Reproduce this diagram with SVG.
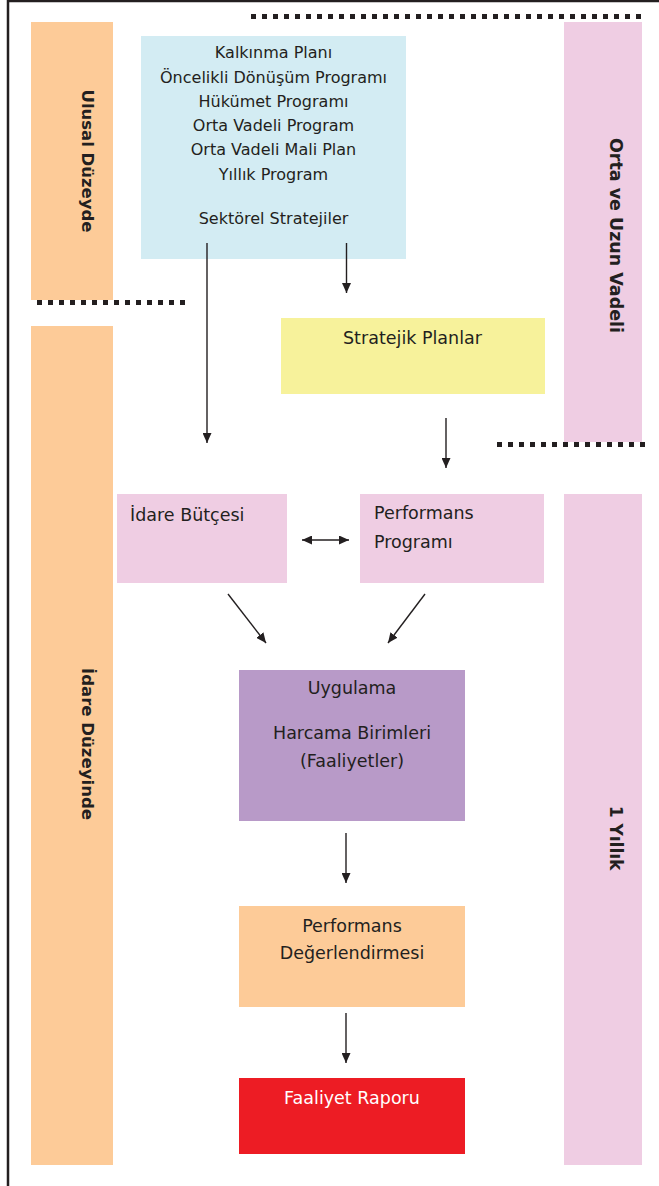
<svg xmlns="http://www.w3.org/2000/svg" width="659" height="1186" viewBox="0 0 659 1186">
<style>
.t{font-family:"DejaVu Sans",Verdana,sans-serif;fill:#231f20}
.b16{font-size:16px}
.b17{font-size:17.5px}
.rot{font-family:"DejaVu Sans",Verdana,sans-serif;font-weight:bold;fill:#231f20;text-anchor:middle}
.c{text-anchor:middle}
.ln{stroke:#231f20;stroke-width:1.4;fill:none;marker-end:url(#ah)}
.dot{stroke:#231f20;stroke-width:5;stroke-dasharray:5 6;fill:none}
</style>
<defs>
<marker id="ah" markerUnits="userSpaceOnUse" markerWidth="10" markerHeight="9" refX="10" refY="4.5" orient="auto-start-reverse">
<path d="M0,0 L10,4.5 L0,9 z" fill="#231f20"/>
</marker>
</defs>
<rect x="0" y="0" width="659" height="1186" fill="#ffffff"/>
<path d="M8,1186 V1 H659" fill="none" stroke="#231f20" stroke-width="2.5"/>

<g id="bands">
<g id="ulusal">
<rect x="31" y="22" width="82" height="278" fill="#fdcb98"/>
<text class="rot" font-size="16.5" transform="translate(82,161) rotate(90)" textLength="143" lengthAdjust="spacingAndGlyphs">Ulusal Düzeyde</text>
</g>
<g id="idare-duzeyinde">
<rect x="31" y="326" width="82" height="839" fill="#fdcb98"/>
<text class="rot" font-size="16.5" transform="translate(82,744) rotate(90)" textLength="152" lengthAdjust="spacingAndGlyphs">İdare Düzeyinde</text>
</g>
<g id="orta-uzun">
<rect x="564" y="22" width="78" height="420" fill="#efcde3"/>
<text class="rot" font-size="17.4" transform="translate(610,235.5) rotate(90)" textLength="195" lengthAdjust="spacingAndGlyphs">Orta ve Uzun Vadeli</text>
</g>
<g id="bir-yillik">
<rect x="564" y="494" width="78" height="671" fill="#efcde3"/>
<text class="rot" font-size="17" transform="translate(610,838) rotate(90)">1 Yıllık</text>
</g>
</g>

<g id="dividers">
<line class="dot" x1="251" y1="16.5" x2="645" y2="16.5"/>
<line class="dot" x1="37" y1="302.5" x2="187" y2="302.5"/>
<line class="dot" x1="497" y1="444.5" x2="645" y2="444.5"/>
</g>

<g id="ulusal-plans">
<rect x="141" y="36" width="265" height="223" fill="#d3ecf3"/>
<text class="t b16 c" x="273.5" y="58">Kalkınma Planı</text>
<text class="t b16 c" x="273.5" y="82.5">Öncelikli Dönüşüm Programı</text>
<text class="t b16 c" x="273.5" y="106.5">Hükümet Programı</text>
<text class="t b16 c" x="273.5" y="130.5">Orta Vadeli Program</text>
<text class="t b16 c" x="273.5" y="155">Orta Vadeli Mali Plan</text>
<text class="t b16 c" x="273.5" y="179.5">Yıllık Program</text>
<text class="t b16 c" x="273.5" y="224">Sektörel Stratejiler</text>
</g>

<g id="stratejik-planlar">
<rect x="281" y="318" width="264" height="76" fill="#f7f29b"/>
<text class="t b17" x="343" y="344">Stratejik Planlar</text>
</g>

<g id="idare-butcesi">
<rect x="117" y="494" width="170" height="89" fill="#efcde3"/>
<text class="t b17" x="130" y="520.5">İdare Bütçesi</text>
</g>

<g id="performans-programi">
<rect x="360" y="494" width="184" height="89" fill="#efcde3"/>
<text class="t b17" x="374" y="519">Performans</text>
<text class="t b17" x="374" y="548">Programı</text>
</g>

<g id="uygulama">
<rect x="239" y="670" width="226" height="151" fill="#b89ac8"/>
<text class="t b17 c" x="352" y="694">Uygulama</text>
<text class="t b17 c" x="352" y="739">Harcama Birimleri</text>
<text class="t b17 c" x="352" y="767">(Faaliyetler)</text>
</g>

<g id="performans-degerlendirmesi">
<rect x="239" y="906" width="226" height="101" fill="#fdcb98"/>
<text class="t b17 c" x="352" y="932">Performans</text>
<text class="t b17 c" x="352" y="959">Değerlendirmesi</text>
</g>

<g id="faaliyet-raporu">
<rect x="239" y="1078" width="226" height="76" fill="#ed1c24"/>
<text class="t b17 c" x="352" y="1104" style="fill:#ffffff">Faaliyet Raporu</text>
</g>

<g id="connectors">
<line class="ln" x1="207" y1="243" x2="207" y2="443"/>
<line class="ln" x1="346.5" y1="243" x2="346.5" y2="293"/>
<line class="ln" x1="446" y1="418" x2="446" y2="468"/>
<line class="ln" x1="302" y1="540" x2="349" y2="540" style="marker-start:url(#ah)"/>
<line class="ln" x1="228" y1="594" x2="266" y2="643"/>
<line class="ln" x1="425" y1="594" x2="388" y2="643"/>
<line class="ln" x1="346" y1="833" x2="346" y2="883"/>
<line class="ln" x1="346" y1="1013" x2="346" y2="1063"/>
</g>
</svg>
